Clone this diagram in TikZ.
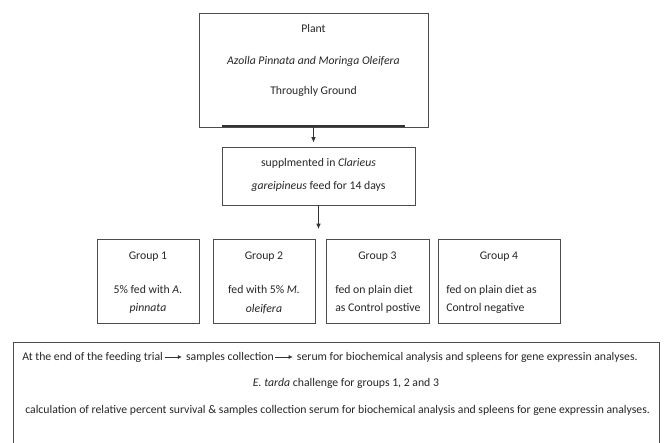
\documentclass[tikz,border=0pt]{standalone}
\usepackage{fontspec}
\setmainfont{Carlito}
\usetikzlibrary{arrows.meta, positioning}

\tikzset{
  frame/.style={draw=black!70, line width=0.7pt, inner sep=0pt},
  grpbox/.style={frame, minimum width=#1, minimum height=63pt},
  txt/.style={text=black!85, font=\fontsize{8.8}{10}\selectfont, inner sep=0pt},
  arr/.style={black!80, line width=0.6pt, -{Latex[length=4pt,width=3.5pt]}},
  inarr/.style={arr, line width=0.5pt, -{Latex[length=3pt,width=3pt]}, shorten <=1pt, shorten >=3pt},
}

\begin{document}
\begin{tikzpicture}[x=0.75pt, y=-0.75pt]
    \useasboundingbox (0,0) rectangle (665,443);

    % plant box
    \node[frame, minimum width=171.75pt, minimum height=85.5pt] (plant) at (313.5,70) {};
    \draw[black!80, line width=1.6pt] (222,126) -- (405,126);
    \node[txt] (plantA) at (313.5,28) {Plant};
    \node[txt] (plantB) at (313.5,61) {\textit{Azolla Pinnata and Moringa Oleifera}};
    \node[txt] (plantC) at (313.5,91) {Throughly Ground};

    % feed box
    \node[frame, minimum width=144.75pt, minimum height=43.5pt] (supp) at (318.5,176) {};
    \node[txt] (suppA) at (318.5,163) {supplmented in \textit{Clarieus}};
    \node[txt] (suppB) at (318.5,186) {\textit{gareipineus} feed for 14 days};

    \draw[arr, shorten >=3pt] (plant.south) -- (plant.south |- supp.north);
    \coordinate (split) at (318.5,229);
    \draw[arr] (supp.south) -- (split);

    % groups
    \node[grpbox=76.5pt] (g1) at (148,281) {};
    \node[grpbox=76.5pt] (g2) at (264,281) {};
    \node[grpbox=77.25pt] (g3) at (377.5,281) {};
    \node[grpbox=91.5pt] (g4) at (499,281) {};

    \node[txt] (g1a) at (148,257) {Group 1};
    \node[txt] (g2a) at (264,257) {Group 2};
    \node[txt] (g3a) at (377.5,257) {Group 3};
    \node[txt] (g4a) at (499,257) {Group 4};

    \node[txt, align=center] (g1b) at (148,299.5) {5\% fed with \textit{A.}\\[4pt]\textit{pinnata}};
    \node[txt, align=center] (g2b) at (264,299.5) {fed with 5\% \textit{M.}\\[4pt]\textit{oleifera}};
    \node[txt, align=left, anchor=west] (g3b) at (335,299.5) {fed on plain diet\\[4pt]as Control postive};
    \node[txt, align=left, anchor=west] (g4b) at (446,299.5) {fed on plain diet as\\[4pt]Control negative};

    % trial box
    \draw[black!70, line width=0.7pt] (13,443) -- (13,342) -- (659,342) -- (659,443);
    \node[txt, anchor=west] (end) at (22,357) {At the end of the feeding trial};
    \node[txt, right=17pt of end] (coll) {samples collection};
    \node[txt, right=17pt of coll] (serum) {serum for biochemical analysis and spleens for gene expressin analyses.};
    \draw[inarr] (end) -- (coll);
    \draw[inarr] (coll) -- (serum);
    \node[txt] (chal) at (346,383) {\textit{E. tarda} challenge for groups 1, 2 and 3};
    \node[txt, anchor=west] (surv) at (25,410) {calculation of relative percent survival \& samples collection serum for biochemical analysis and spleens for gene expressin analyses.};
\end{tikzpicture}
\end{document}
